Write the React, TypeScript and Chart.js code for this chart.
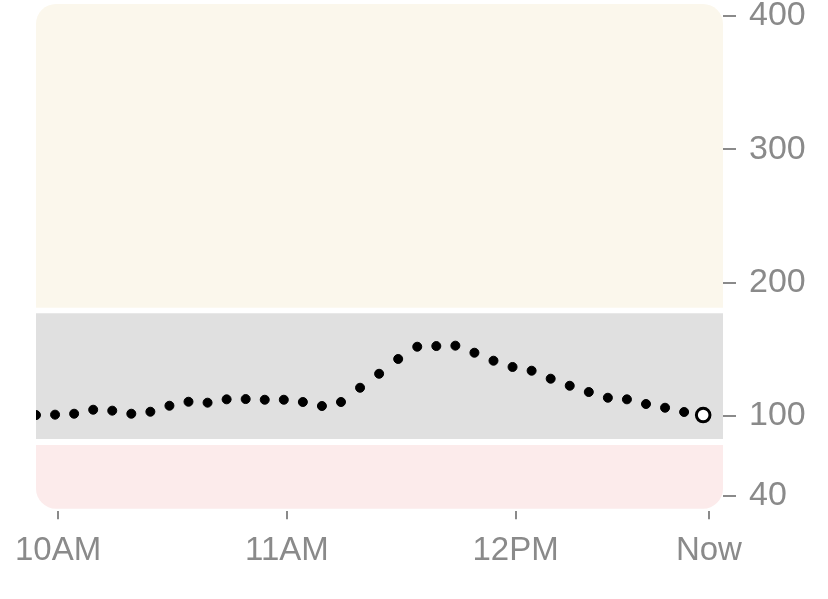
import React, { useEffect, useRef } from "react";
import { Chart, registerables } from "chart.js";

Chart.register(...registerables);

// minutes after 10AM
const readingTimes = [
  -5.8, -0.8, 4.2, 9.2, 14.2, 19.2, 24.2, 29.2, 34.2, 39.2, 44.2, 49.2,
  54.2, 59.2, 64.2, 69.2, 74.2, 79.2, 84.2, 89.2, 94.2, 99.2, 104.2, 109.2,
  114.2, 119.2, 124.2, 129.2, 134.2, 139.2, 144.2, 149.2, 154.2, 159.2, 164.2, 169.2,
];
const glucoseValues = [
  100.5, 100.8, 101.5, 104.5, 103.8, 101.5, 103, 107.5, 110.5, 109.8, 112.3, 112.5,
  112, 112, 110.3, 107.3, 110.3, 121, 131.5, 142.6, 151.8, 152.3, 152.6, 147.3,
  141.3, 136.6, 133.8, 127.8, 122.5, 117.8, 113.5, 112.3, 108.8, 106, 102.8, 100.5,
];
const xTickValues = [0, 60, 120, 170.7];
const xTickLabels = ["10AM", "11AM", "12PM", "Now"];
const yTickValues = [40, 100, 200, 300, 400];

// range bands (value from, value to)
const bandLow = [30.2, 78];
const bandInRange = [82.5, 177];
const bandHigh = [181.1, 409.1];

const LABEL_COLOR = "#8a8a8a";

function roundedRect(
  ctx: CanvasRenderingContext2D,
  x: number, y: number, w: number, h: number,
  rTop: number, rBottom: number
) {
  ctx.beginPath();
  ctx.moveTo(x + rTop, y);
  ctx.lineTo(x + w - rTop, y);
  if (rTop) ctx.arcTo(x + w, y, x + w, y + rTop, rTop);
  else ctx.lineTo(x + w, y);
  ctx.lineTo(x + w, y + h - rBottom);
  if (rBottom) ctx.arcTo(x + w, y + h, x + w - rBottom, y + h, rBottom);
  else ctx.lineTo(x + w, y + h);
  ctx.lineTo(x + rBottom, y + h);
  if (rBottom) ctx.arcTo(x, y + h, x, y + h - rBottom, rBottom);
  else ctx.lineTo(x, y + h);
  ctx.lineTo(x, y + rTop);
  if (rTop) ctx.arcTo(x, y, x + rTop, y, rTop);
  else ctx.lineTo(x, y);
  ctx.closePath();
}

const bandsPlugin = {
  id: "bands",
  beforeDatasetsDraw(chart: any) {
    const { ctx, chartArea, scales } = chart;
    const y = scales.y;
    const left = chartArea.left;
    const w = chartArea.right - chartArea.left;
    const bands = [
      { r: bandHigh, color: "#fbf7ec", rt: 20, rb: 0 },
      { r: bandInRange, color: "#e0e0e0", rt: 0, rb: 0 },
      { r: bandLow, color: "#fcebeb", rt: 0, rb: 20 },
    ];
    ctx.save();
    for (const b of bands) {
      const top = y.getPixelForValue(b.r[1]);
      const bottom = y.getPixelForValue(b.r[0]);
      ctx.fillStyle = b.color;
      roundedRect(ctx, left, top, w, bottom - top, b.rt, b.rb);
      ctx.fill();
    }
    ctx.restore();
  },
};

export default function App() {
  const ref = useRef<HTMLCanvasElement | null>(null);

  useEffect(() => {
    document.body.style.margin = "0";
    const canvas = ref.current;
    if (!canvas) return;
    const n = glucoseValues.length;
    const data = readingTimes.map((t, i) => ({ x: t, y: glucoseValues[i] }));
    const chart = new Chart(canvas, {
      type: "line",
      data: {
        datasets: [
          {
            data,
            showLine: false,
            clip: 0,
            pointRadius: data.map((_, i) => (i === n - 1 ? 6.8 : 4.5)),
            pointBorderWidth: data.map((_, i) => (i === n - 1 ? 3 : 1)),
            pointBackgroundColor: data.map((_, i) => (i === n - 1 ? "#ffffff" : "#000000")),
            pointBorderColor: "#000000",
            pointHoverRadius: 0,
          } as any,
        ],
      },
      options: {
        responsive: false,
        animation: false,
        layout: { autoPadding: false, padding: { top: 4, left: 36, right: 0, bottom: 0 } },
        plugins: { legend: { display: false }, tooltip: { enabled: false } },
        events: [],
        scales: {
          x: {
            type: "linear",
            min: -5.8,
            max: 174.4,
            afterBuildTicks: (s: any) => {
              s.ticks = xTickValues.map((v) => ({ value: v }));
            },
            afterFit: (s: any) => {
              s.height = 88.3;
              s.paddingLeft = 0;
              s.paddingRight = 0;
            },
            border: { display: false },
            grid: {
              drawOnChartArea: false,
              drawTicks: true,
              tickLength: 8.5,
              color: LABEL_COLOR,
              lineWidth: 2,
            },
            ticks: {
              autoSkip: false,
              maxRotation: 0,
              padding: 12,
              color: LABEL_COLOR,
              font: { family: "'Liberation Sans', Arial, sans-serif", size: 33 },
              callback: (_v: any, i: number) => xTickLabels[i],
            },
          },
          y: {
            type: "linear",
            position: "right",
            min: 28.7,
            max: 409.1,
            afterBuildTicks: (s: any) => {
              s.ticks = yTickValues.map((v) => ({ value: v }));
            },
            afterFit: (s: any) => {
              s.width = 105;
              s.paddingTop = 0;
              s.paddingBottom = 0;
            },
            border: { display: false },
            grid: {
              drawOnChartArea: false,
              drawTicks: true,
              tickLength: 13,
              color: LABEL_COLOR,
              lineWidth: 2,
            },
            ticks: {
              padding: 13,
              color: LABEL_COLOR,
              font: { family: "'Liberation Sans', Arial, sans-serif", size: 34 },
              callback: (v: any) => String(v),
            },
          },
        },
      },
      plugins: [bandsPlugin],
    });
    return () => chart.destroy();
  }, []);

  return (
    <div style={{ position: "fixed", top: 0, left: 0, width: 828, height: 599, background: "#ffffff" }}>
      <canvas ref={ref} width={828} height={599} style={{ display: "block" }} />
    </div>
  );
}
